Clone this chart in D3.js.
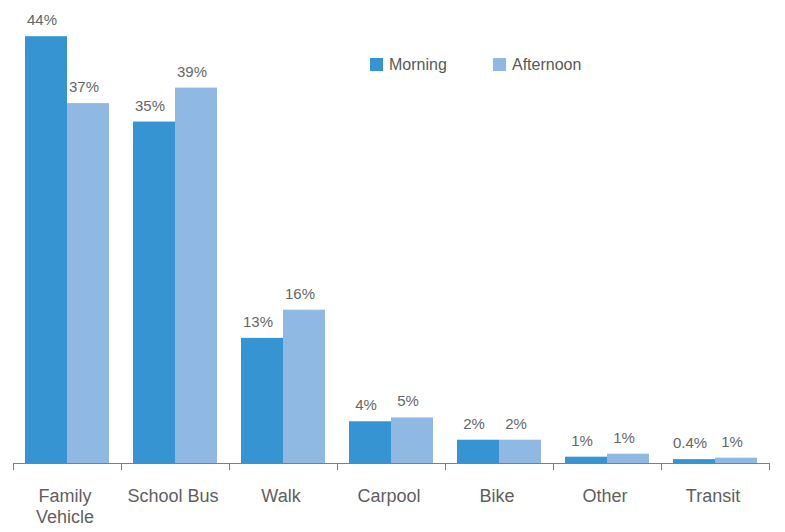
<!DOCTYPE html>
<html><head><meta charset="utf-8">
<script src="https://cdn.jsdelivr.net/npm/d3@7"></script>
<style>body{margin:0;background:#fff}svg{display:block}</style>
</head><body>
<script>
const categories = [["Family","Vehicle"],["School Bus"],["Walk"],["Carpool"],["Bike"],["Other"],["Transit"]];
const seriesNames = ["Morning","Afternoon"];
const morning = [44.0, 35.2, 12.9, 4.3, 2.4, 0.65, 0.4];
const afternoon = [37.1, 38.7, 15.8, 4.7, 2.4, 0.96, 0.55];
const morningLabels = ["44%","35%","13%","4%","2%","1%","0.4%"];
const afternoonLabels = ["37%","39%","16%","5%","2%","1%","1%"];
const colors = ["#3794d3","#8fb8e2"];

const W=785,H=532;
const svg=d3.select("body").append("svg").attr("width",W).attr("height",H);
const base=463;
const cats=categories.map(c=>c.join(" "));
const x0=d3.scaleBand().domain(cats).range([13,769]);
const x1=d3.scaleBand().domain(seriesNames).range([12,96]);
const y=d3.scaleLinear().domain([0,45]).range([base,base-45*9.7]);

const vals=[morning,afternoon], labs=[morningLabels,afternoonLabels];
seriesNames.forEach((s,si)=>{
  const g=svg.append("g");
  g.selectAll("rect").data(vals[si]).join("rect")
    .attr("x",(d,i)=>x0(cats[i])+x1(s))
    .attr("y",d=>y(d)).attr("width",x1.bandwidth()).attr("height",d=>base-y(d))
    .attr("fill",colors[si]);
  g.selectAll("text").data(vals[si]).join("text")
    .attr("x",(d,i)=>x0(cats[i])+x1(s)+x1.bandwidth()/2-4)
    .attr("y",d=>y(d)-11)
    .attr("text-anchor","middle")
    .attr("font-family","Liberation Sans, Arial, sans-serif")
    .attr("font-size",15).attr("fill","#666")
    .text((d,i)=>labs[si][i]);
});

// axis
const ax=svg.append("g");
ax.append("line").attr("x1",x0.range()[0]).attr("x2",x0.range()[1]).attr("y1",base+0.5).attr("y2",base+0.5).attr("stroke","#7f7f7f");
const tickXs=cats.map(c=>x0(c)).concat([x0.range()[1]]);
ax.selectAll("line.t").data(tickXs).join("line").attr("class","t")
  .attr("x1",d=>Math.round(d)+0.5).attr("x2",d=>Math.round(d)+0.5).attr("y1",base).attr("y2",base+7).attr("stroke","#7f7f7f");
ax.selectAll("text").data(categories).join("text")
  .attr("x",(d,i)=>x0(cats[i])+x0.bandwidth()/2-2)
  .attr("y",502)
  .attr("text-anchor","middle")
  .attr("font-family","Liberation Sans, Arial, sans-serif")
  .attr("font-size",18).attr("fill","#5f5f5f")
  .each(function(d){
    const t=d3.select(this);
    d.forEach((line,li)=>t.append("tspan").attr("x",t.attr("x")).attr("dy",li?21:0).text(line));
  });

// legend
const lg=svg.append("g");
const lx=[370,493];
seriesNames.forEach((s,i)=>{
  lg.append("rect").attr("x",lx[i]).attr("y",58).attr("width",13).attr("height",13).attr("fill",colors[i]);
  lg.append("text").attr("x",lx[i]+19).attr("y",70).attr("font-family","Liberation Sans, Arial, sans-serif")
    .attr("font-size",16).attr("fill","#595959").text(s);
});
</script>
</body></html>
